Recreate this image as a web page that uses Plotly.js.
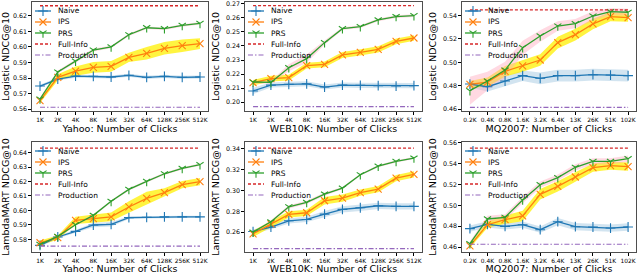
<!DOCTYPE html>
<html><head><meta charset="utf-8">
<script src="https://cdn.plot.ly/plotly-3.0.1.min.js"></script>
<style>html,body{margin:0;padding:0;background:#fff}#chart{width:640px;height:274px}</style>
</head><body><div id="chart"></div>
<script>
// ---- tick labels ----
const clicksK = ['1K','2K','4K','8K','16K','32K','64K','128K','256K','512K'];
const clicksMQ = ['0.2K','0.4K','0.8K','1.6K','3.2K','6.4K','13K','26K','51K','102K'];
const seriesNames = ['Naive','IPS','PRS','Full-Info','Production'];

// ---- Logistic / Yahoo ----
const logYahooNaive = [0.5749,0.5794,0.5813,0.5811,0.5807,0.5818,0.5805,0.5811,0.5805,0.5807];
const logYahooIPS   = [0.5655,0.5805,0.5845,0.5869,0.5875,0.5933,0.5959,0.5991,0.6008,0.6021];
const logYahooPRS   = [0.5666,0.5839,0.5909,0.5980,0.6000,0.6078,0.6123,0.6117,0.6138,0.6151];
const logYahooNaiveErr = [0.0008,0.0010,0.0010,0.0010,0.0010,0.0010,0.0010,0.0010,0.0010,0.0010];
const logYahooIPSErr   = [0.0015,0.0020,0.0030,0.0035,0.0035,0.0030,0.0040,0.0040,0.0040,0.0035];
const logYahooPRSErr   = [0.0010,0.0010,0.0010,0.0010,0.0008,0.0008,0.0008,0.0008,0.0008,0.0008];
const logYahooFull = 0.6264, logYahooProd = 0.5613;

// ---- Logistic / WEB10K ----
const logWebNaive = [0.2079,0.2121,0.2126,0.2130,0.2107,0.2121,0.2119,0.2117,0.2114,0.2117];
const logWebIPS   = [0.2138,0.2167,0.2174,0.2260,0.2269,0.2336,0.2355,0.2376,0.2433,0.2457];
const logWebPRS   = [0.2143,0.2140,0.2245,0.2310,0.2424,0.2524,0.2538,0.2586,0.2610,0.2617];
const logWebNaiveErr = [0.0022,0.0018,0.0018,0.0018,0.0018,0.0018,0.0018,0.0018,0.0018,0.0018];
const logWebIPSErr   = [0.0020,0.0020,0.0020,0.0020,0.0020,0.0022,0.0022,0.0022,0.0020,0.0020];
const logWebPRSErr   = [0.0010,0.0010,0.0025,0.0030,0.0015,0.0010,0.0010,0.0010,0.0010,0.0010];
const logWebFull = 0.2688, logWebProd = 0.1967;

// ---- Logistic / MQ2007 ----
const logMqNaive = [0.4814,0.4791,0.4840,0.4886,0.4863,0.4886,0.4886,0.4894,0.4891,0.4886];
const logMqIPS   = [0.4811,0.4831,0.4923,0.4969,0.5020,0.5169,0.5237,0.5329,0.5391,0.5383];
const logMqPRS   = [0.4757,0.4840,0.4934,0.5126,0.5226,0.5311,0.5331,0.5397,0.5434,0.5429];
const logMqNaiveErr = [0.0030,0.0040,0.0045,0.0045,0.0050,0.0050,0.0050,0.0050,0.0050,0.0050];
const logMqIPSErr   = [0.0030,0.0040,0.0045,0.0050,0.0050,0.0050,0.0050,0.0045,0.0040,0.0035];
const logMqPRSErr   = [0.0120,0.0080,0.0070,0.0060,0.0050,0.0040,0.0040,0.0040,0.0030,0.0030];
const logMqFull = 0.5449, logMqProd = 0.4614;

// ---- LambdaMART / Yahoo ----
const lmYahooNaive = [0.5758,0.5816,0.5855,0.5899,0.5904,0.5950,0.5952,0.5955,0.5955,0.5955];
const lmYahooIPS   = [0.5776,0.5811,0.5931,0.5943,0.5955,0.6024,0.6084,0.6123,0.6178,0.6199];
const lmYahooPRS   = [0.5765,0.5820,0.5901,0.5966,0.6063,0.6146,0.6201,0.6254,0.6291,0.6317];
const lmYahooNaiveErr = [0.0010,0.0010,0.0010,0.0015,0.0015,0.0010,0.0008,0.0008,0.0008,0.0008];
const lmYahooIPSErr   = [0.0015,0.0015,0.0025,0.0030,0.0030,0.0040,0.0045,0.0030,0.0025,0.0025];
const lmYahooPRSErr   = [0.0008,0.0008,0.0008,0.0008,0.0008,0.0008,0.0008,0.0008,0.0008,0.0008];
const lmYahooFull = 0.6432, lmYahooProd = 0.5753;

// ---- LambdaMART / WEB10K ----
const lmWebNaive = [0.2606,0.2648,0.2709,0.2722,0.2773,0.2818,0.2834,0.2853,0.2847,0.2847];
const lmWebIPS   = [0.2584,0.2680,0.2770,0.2786,0.2901,0.2927,0.2978,0.3013,0.3118,0.3153];
const lmWebPRS   = [0.2600,0.2699,0.2843,0.2885,0.2965,0.3022,0.3150,0.3233,0.3278,0.3310];
const lmWebNaiveErr = [0.0020,0.0020,0.0025,0.0025,0.0030,0.0030,0.0030,0.0030,0.0030,0.0030];
const lmWebIPSErr   = [0.0030,0.0030,0.0030,0.0030,0.0035,0.0035,0.0030,0.0030,0.0030,0.0030];
const lmWebPRSErr   = [0.0010,0.0015,0.0015,0.0015,0.0015,0.0010,0.0010,0.0010,0.0010,0.0010];
const lmWebFull = 0.3406, lmWebProd = 0.2442;

// ---- LambdaMART / MQ2007 ----
const lmMqNaive = [0.4776,0.4818,0.4798,0.4814,0.4766,0.4843,0.4795,0.4792,0.4782,0.4792];
const lmMqIPS   = [0.4610,0.4814,0.4862,0.4898,0.5106,0.5182,0.5272,0.5362,0.5381,0.5371];
const lmMqPRS   = [0.4632,0.4869,0.4885,0.5051,0.5198,0.5266,0.5365,0.5422,0.5422,0.5448];
const lmMqNaiveErr = [0.0030,0.0030,0.0030,0.0030,0.0030,0.0035,0.0035,0.0035,0.0035,0.0035];
const lmMqIPSErr   = [0.0020,0.0030,0.0040,0.0050,0.0050,0.0050,0.0045,0.0040,0.0040,0.0040];
const lmMqPRSErr   = [0.0020,0.0030,0.0030,0.0030,0.0030,0.0030,0.0030,0.0030,0.0030,0.0030];
const lmMqFull = 0.5550, lmMqProd = 0.4626;

// ---- panel definitions ----
const panels = [
  {naive:logYahooNaive, ips:logYahooIPS, prs:logYahooPRS, ne:logYahooNaiveErr, ie:logYahooIPSErr, pe:logYahooPRSErr, full:logYahooFull, prod:logYahooProd, labels:clicksK, xtitle:'Yahoo: Number of Clicks', ytitle:'Logistic NDCG@10', yr:[0.5589,0.6288], dt:0.01},
  {naive:logWebNaive, ips:logWebIPS, prs:logWebPRS, ne:logWebNaiveErr, ie:logWebIPSErr, pe:logWebPRSErr, full:logWebFull, prod:logWebProd, labels:clicksK, xtitle:'WEB10K: Number of Clicks', ytitle:'Logistic NDCG@10', yr:[0.1936,0.2714], dt:0.01},
  {naive:logMqNaive, ips:logMqIPS, prs:logMqPRS, ne:logMqNaiveErr, ie:logMqIPSErr, pe:logMqPRSErr, full:logMqFull, prod:logMqProd, labels:clicksMQ, xtitle:'MQ2007: Number of Clicks', ytitle:'Logistic NDCG@10', yr:[0.4583,0.5517], dt:0.02},
  {naive:lmYahooNaive, ips:lmYahooIPS, prs:lmYahooPRS, ne:lmYahooNaiveErr, ie:lmYahooIPSErr, pe:lmYahooPRSErr, full:lmYahooFull, prod:lmYahooProd, labels:clicksK, xtitle:'Yahoo: Number of Clicks', ytitle:'LambdaMART NDCG@10', yr:[0.5712,0.6474], dt:0.01},
  {naive:lmWebNaive, ips:lmWebIPS, prs:lmWebPRS, ne:lmWebNaiveErr, ie:lmWebIPSErr, pe:lmWebPRSErr, full:lmWebFull, prod:lmWebProd, labels:clicksK, xtitle:'WEB10K: Number of Clicks', ytitle:'LambdaMART NDCG@10', yr:[0.2410,0.3464], dt:0.02},
  {naive:lmMqNaive, ips:lmMqIPS, prs:lmMqPRS, ne:lmMqNaiveErr, ie:lmMqIPSErr, pe:lmMqPRSErr, full:lmMqFull, prod:lmMqProd, labels:clicksMQ, xtitle:'MQ2007: Number of Clicks', ytitle:'LambdaMART NDCG@10', yr:[0.4552,0.5608], dt:0.02}
];

const W = 640, H = 274;
const xDom = [[32,208],[245,422],[462,636]];
const yDom = [[2,111],[142,252]]; // top px, bottom px
const C = {naive:'#1f77b4', ips:'#ff7f0e', prs:'#2ca02c', full:'#d62728', prod:'#9467bd'};
const bandC = {naive:'rgba(31,119,180,0.2)', ips:'rgba(255,240,0,0.75)', prs:'rgba(255,170,190,0.45)'};
const font = 'DejaVu Sans, sans-serif';
const styles = [
  {line:{color:C.naive, width:1.3}, marker:{symbol:'cross-thin', size:7, color:C.naive, line:{color:C.naive, width:1.1}}, mode:'lines+markers'},
  {line:{color:C.ips, width:1.3}, marker:{symbol:'x-thin', size:7, color:C.ips, line:{color:C.ips, width:1.1}}, mode:'lines+markers'},
  {line:{color:C.prs, width:1.3}, marker:{symbol:'y-down', size:6, color:C.prs, line:{color:C.prs, width:1.1}}, mode:'lines+markers'},
  {line:{color:C.full, width:1.3, dash:'3px,2px'}, mode:'lines'},
  {line:{color:C.prod, width:1.1, dash:'5px,2px,1.5px,2px'}, mode:'lines'}
];

const traces = [];
const annotations = [];
const layout = {
  width: W, height: H, margin:{l:0,r:0,t:0,b:0},
  paper_bgcolor:'#fff', plot_bgcolor:'rgba(0,0,0,0)',
  font:{family:font, color:'#000', size:7},
  showlegend:false
};

panels.forEach((p, i) => {
  const n = i + 1;
  const xa = 'x' + (n === 1 ? '' : n), ya = 'y' + (n === 1 ? '' : n);
  const xk = 'xaxis' + (n === 1 ? '' : n), yk = 'yaxis' + (n === 1 ? '' : n);
  const col = i % 3, row = Math.floor(i / 3);
  const idx = p.labels.map((_, k) => k);

  // bands
  [['naive', p.naive, p.ne], ['ips', p.ips, p.ie], ['prs', p.prs, p.pe]].forEach(([key, v, e]) => {
    traces.push({x: idx, y: v.map((d, k) => d - e[k]), xaxis: xa, yaxis: ya, mode:'lines', line:{width:0, color:bandC[key]}, hoverinfo:'skip'});
    traces.push({x: idx, y: v.map((d, k) => d + e[k]), xaxis: xa, yaxis: ya, mode:'lines', line:{width:0, color:bandC[key]}, fill:'tonexty', fillcolor:bandC[key], hoverinfo:'skip'});
  });
  // lines
  const series = [p.naive, p.ips, p.prs, idx.map(() => p.full), idx.map(() => p.prod)];
  series.forEach((s, k) => {
    traces.push(Object.assign({x: idx, y: s, name: seriesNames[k], xaxis: xa, yaxis: ya}, styles[k]));
  });

  const yd = yDom[row];
  layout[xk] = {domain:[xDom[col][0]/W, xDom[col][1]/W], anchor: ya, range:[-0.45, 9.45],
    tickmode:'array', tickvals: idx, ticktext: p.labels, tickangle:0, tickfont:{size:5.9, family:font}, ticks:'outside', ticklen:3, tickcolor:'#000',
    showline:true, mirror:true, linecolor:'#222', linewidth:0.8, showgrid:false, zeroline:false,
    title:{text:p.xtitle, font:{size:9.5, family:font}, standoff:2}};
  layout[yk] = {domain:[1 - yd[1]/H, 1 - yd[0]/H], anchor: xa, range:p.yr, dtick:p.dt, tickformat:'.2f',
    tickfont:{size:6.3, family:font}, ticks:'outside', ticklen:3, tickcolor:'#000',
    showline:true, mirror:true, linecolor:'#222', linewidth:0.8, showgrid:false, zeroline:false,
    title:{text:p.ytitle, font:{size:9.5, family:font}, standoff:4}};

  // ---- legend (drawn in a hidden pixel-unit axis at the panel's upper-left) ----
  const ln = n + 6;
  const lxa = 'x' + ln, lya = 'y' + ln;
  const x0 = xDom[col][0], y0 = yd[0];
  layout['xaxis' + ln] = {domain:[x0/W, (x0 + 80)/W], range:[0, 80], visible:false, fixedrange:true, anchor: lya};
  layout['yaxis' + ln] = {domain:[1 - (y0 + 64)/H, 1 - y0/H], range:[64, 0], visible:false, fixedrange:true, anchor: lxa};
  seriesNames.forEach((name, k) => {
    const yy = 9 + 11 * k;
    const st = styles[k];
    traces.push({x:[3, 19], y:[yy, yy], xaxis:lxa, yaxis:lya, mode:'lines', line:st.line, hoverinfo:'skip'});
    if (st.marker) traces.push({x:[11], y:[yy], xaxis:lxa, yaxis:lya, mode:'markers', marker:st.marker, hoverinfo:'skip'});
    annotations.push({xref:lxa, yref:lya, x:24, y:yy, text:name, showarrow:false, xanchor:'left', yanchor:'middle',
      font:{size:7.5, family:font, color:'#000'}});
  });
});
layout.annotations = annotations;

Plotly.newPlot('chart', traces, layout, {staticPlot:true, displayModeBar:false});
</script>
</body></html>
